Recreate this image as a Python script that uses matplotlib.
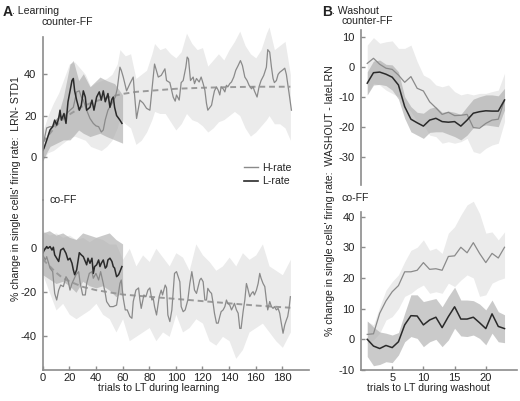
import matplotlib
matplotlib.use("Agg")
import matplotlib.pyplot as plt
from matplotlib.lines import Line2D

plt.rcParams['font.family'] = ['Liberation Sans', 'DejaVu Sans']
plt.rcParams['axes.unicode_minus'] = False

# ---- Panel A, counter-FF (learning) ----
a1_h_t = [0, 1, 3, 5.5, 8, 10.5, 13, 15.5, 18, 20.5, 23, 25.5, 27.5, 29, 30.5, 33, 35.5, 38, 40, 42, 44, 45.5, 47, 49,
          52, 54.5, 56, 58, 59, 60.5, 63, 65.5, 68, 69, 70.5, 73, 75.5, 78, 80.5, 83, 84, 86.8, 89, 91.8, 93, 95.5, 98,
          99.5, 100.5, 102.5, 104, 105.5, 107.5, 108.5, 109.5, 111, 113, 114, 115.5, 117.5, 119, 120.5, 121.8, 123, 124,
          126.8, 128, 129, 130.5, 131.8, 133, 134, 135.5, 136.8, 138, 139, 140.5, 141.8, 143.5, 145, 146.8, 148.5, 150,
          151.8, 153.5, 155, 156.8, 158, 159, 161, 162.5, 164, 166, 168, 169, 170.5, 171.8, 173, 174, 175.5, 176.8, 178,
          180, 181.8, 183, 185, 186.8]
a1_h_v = [6, 8, 14, 14.6, 14.6, 17.8, 20, 18.6, 21, 22.6, 24, 31.5, 32, 29, 27.5, 22.6, 18.6, 16.2, 15, 14.6, 12, 13, 18,
          22.6, 25.9, 29, 33, 43.5, 42, 38.7, 32, 35.5, 38.7, 30, 18.6, 27.5, 26, 23.5, 22.6, 38.7, 45, 38.7, 39.5, 42.7,
          37, 36, 29, 27, 30, 27.5, 36, 37, 43.5, 48.4, 47.5, 37, 38.7, 35.5, 38, 36.3, 38.7, 35.5, 32.3, 25.9, 22.6, 25,
          29, 32, 33.9, 32.3, 30, 33.9, 33, 31.5, 34.7, 33.9, 35.5, 36.3, 38.7, 42, 44.3, 46.7, 44.3, 38.7, 37, 34.7, 33,
          34, 32, 29, 34, 37, 39.5, 43.5, 52, 50.8, 43.5, 38, 36, 37, 40, 41, 42, 43, 40, 31, 22.6]
a1_l_t = [0, 1, 3, 5.5, 7.5, 9, 10.5, 12, 13, 14, 16, 17.5, 19, 22, 23, 24, 25.5, 27.5, 29, 30.5, 32, 33, 35.5, 37, 38.5,
          40.5, 42.5, 44, 45.5, 47, 49, 50.5, 52, 53, 54, 55.5, 58, 59.5]
a1_l_v = [3, 4.2, 8, 13, 14.6, 17.8, 15.4, 18.6, 22.6, 17.8, 21, 16.2, 26.7, 37, 38, 32, 27.5, 22.6, 25, 32, 29, 22.6, 24,
          27.5, 22.6, 29, 31.5, 27.5, 32, 26.7, 30.7, 24, 28, 29, 24, 20, 17.8, 16.2]
a1_fit_t = [0, 5, 10, 15, 20, 25, 30, 40, 50, 60, 70, 80, 90, 100, 120, 140, 160, 186]
a1_fit_v = [7, 11, 15, 18, 20.5, 22.5, 24.5, 27, 29, 30.5, 31.5, 32, 32.5, 33, 33.5, 33.8, 34, 34]
a1_hb_t = [0, 4, 8, 12, 16, 20, 24, 28, 32, 36, 40, 44, 48, 52, 56, 58, 62, 66, 70, 74, 78, 82, 84, 88, 92, 96, 100, 104,
           108, 112, 116, 120, 124, 128, 132, 136, 140, 144, 148, 152, 156, 160, 164, 168, 170, 174, 178, 182, 186]
a1_hb_hi = [12, 20, 26, 31, 38, 45, 46, 43, 40, 34, 36, 37, 38, 40, 45, 52, 49, 50, 38, 40, 42, 50, 55, 52, 53, 50, 48,
            51, 60, 55, 52, 53, 44, 47, 50, 47, 52, 56, 61, 54, 50, 48, 52, 60, 63, 52, 54, 56, 40]
a1_hb_lo = [-2, 2, 3, 5, 7, 9, 10, 9, 8, 5, 4, 3, 5, 8, 14, 19, 16, 14, 6, 8, 12, 18, 22, 21, 21, 17, 13, 16, 21, 18, 17,
            15, 12, 14, 17, 18, 20, 22, 20, 14, 10, 12, 15, 18, 20, 16, 16, 14, 8]
a1_lb_t = [0, 3, 5.5, 10.5, 15.5, 20.5, 23, 27, 30.5, 35.5, 43, 48, 54, 60]
a1_lb_hi = [4, 10, 14.6, 17.8, 29, 45, 46.7, 37, 40.3, 34, 38.7, 37, 35.5, 30]
a1_lb_lo = [-2, 2, 5, 6.6, 8.2, 8.2, 10, 13, 11.4, 9.8, 11.4, 9.8, 8.2, 6.6]

# ---- Panel A, co-FF (learning) ----
a2_h_t = [0, 2, 3, 5.5, 7.5, 9, 10.5, 12, 13.5, 15.5, 17.5, 19, 20.5, 22, 25, 27, 28, 30, 32, 33, 35, 37, 38, 40, 42,
          43.5, 45.5, 47, 48, 50.5, 53, 55.5, 58, 59, 60.5, 62, 63.5, 65.5, 67, 68, 70, 72, 73, 74, 76, 77.5, 79, 80.5,
          82, 83, 84, 85.5, 87.5, 89, 90, 92, 93, 94, 95.5, 97, 99, 100.5, 103, 104, 105.5, 107, 109, 110.5, 112, 113,
          114, 115.5, 116.8, 118, 119, 120.5, 121.8, 123, 124, 125.5, 126.8, 128, 129, 130.5, 131.8, 133, 134, 135.5,
          136.8, 138, 139, 140.5, 141.8, 143, 144, 145.5, 146.8, 148, 149, 150.5, 151.8, 153, 154, 155.5, 156.8, 158,
          159, 160.5, 161.8, 163, 164, 165.5, 166.8, 168, 169, 170.5, 171.8, 173, 174, 175.5, 176.8, 178, 179, 180.5,
          181.8, 183, 184, 185, 186]
a2_h_v = [-3, -5.3, -3.8, -9, -10.6, -20.5, -23.5, -19, -16.7, -17.4, -12.9, -14.4, -19, -16, -12, -10.6, -15.2, -21.2,
          -21.2, -16, -11.4, -10.6, -13.6, -11.4, -14.4, -10.6, -16, -20.5, -24.2, -26.5, -26.5, -25.8, -16, -14.4, -22.7,
          -28, -28, -31, -31.8, -24.2, -19, -18, -23.5, -27.3, -21.2, -22, -19, -18, -23.5, -22.7, -26.5, -30.3, -22, -19,
          -21.2, -16.7, -18, -30.3, -33.3, -28, -11.4, -10.6, -15.2, -26.5, -28.8, -28, -23.5, -16, -10.6, -14.4, -19,
          -20.5, -17.4, -14.4, -13.6, -15.2, -23.5, -23.5, -18.2, -19.7, -20.5, -25, -29.5, -34, -34, -31, -28.8, -28,
          -26.5, -23.5, -25, -25.8, -28, -26.5, -25, -28, -29.5, -36.4, -36.4, -28.8, -23.5, -16, -18.2, -22, -20.5,
          -19.7, -21.2, -19, -16, -11.4, -13.6, -16, -17.4, -23.5, -28, -24.2, -26.5, -27.3, -26.5, -28, -27.3, -29.5,
          -33.3, -38.6, -34.8, -32.6, -31, -27.3, -22]
a2_l_t = [0, 1, 3, 4, 5.5, 7, 8, 9, 10.5, 12, 13.5, 15.5, 17.5, 19, 20.5, 22, 23, 24, 25.5, 27.5, 29, 30.5, 32, 33, 34,
          35.5, 37, 38, 39, 40.5, 42, 43, 44, 45.5, 47, 48, 49, 50.5, 52, 53, 54, 55.5, 57, 58, 59.5]
a2_l_v = [-2.3, -1, 0.8, 0, 0.8, -0.8, 0.5, -3, -4.5, -6, -0.8, 0, -2.3, -5.3, -4.5, -6.8, -9.8, -12, -9.8, -2, -3, -3.8,
          -6, -7.5, -4.5, -6.8, -4.5, -11.4, -8.3, -7.5, -5.3, -8.3, -6.8, -5.3, -9, -8.3, -5.3, -4.5, -6, -8.3, -9,
          -12.9, -12, -10.6, -8.3]
a2_fit_t = [0, 5, 10, 15, 20, 30, 40, 50, 60, 80, 100, 120, 140, 160, 186]
a2_fit_v = [-5, -8, -11, -13.5, -15, -17.5, -19, -20, -21, -22, -23, -24, -25, -26, -27]
a2_hb_t = [0, 5, 10, 15, 20, 25, 30, 35, 40, 45, 50, 55, 60, 65, 70, 75, 80, 85, 90, 95, 100, 105, 110, 115, 120, 125,
           130, 135, 140, 145, 150, 155, 160, 165, 170, 175, 180, 186]
a2_hb_hi = [8, 6, 7, 5, 6, 4, 5, 3, 5, 4, 2, 2, -5, 0, -8, -3, -6, 0, -4, -8, -2, -4, -10, 2, -3, -6, -10, -8, -4, -8,
            -2, -5, -3, 2, -8, -10, -12, -5]
a2_hb_lo = [-12, -20, -28, -25, -30, -32, -30, -28, -25, -30, -32, -38, -32, -42, -40, -38, -36, -42, -38, -40, -30, -38,
            -36, -32, -34, -42, -44, -40, -42, -50, -46, -38, -36, -34, -38, -42, -45, -38]
a2_lb_t = [0, 5, 10, 15, 20, 25, 30, 35, 40, 45, 50, 55, 60]
a2_lb_hi = [7, 8, 6, 7, 5, 4, 7, 6, 5, 6, 7, 4, 2]
a2_lb_lo = [-12, -14, -16, -15, -17, -20, -15, -17, -18, -17, -19, -22, -20]

# ---- Panel B, washout ----
b_t = list(range(1, 24))
b1_h = [1.2, 2.9, 0.9, -0.4, -0.8, -2.7, -5.1, -3.2, -7.1, -8, -11.6, -13.6, -15.8, -15.1, -16.2, -16.1, -15.8, -20.2,
        -20.4, -18.8, -17.7, -17.4, -11]
b1_h_hi = [7.3, 9.8, 7.9, 8.4, 8.7, 6.2, 6.2, 7.3, 1.8, -2.7, -3.8, -6, -6.6, -6, -8.2, -9.3, -8.8, -9.3, -8.8, -8.8,
           -8.2, -7.7, -2.1]
b1_h_lo = [-9.3, -5.4, -6, -7.7, -8.8, -9.9, -12.8, -14.9, -18.2, -19.3, -22.7, -23.2, -25.4, -24.9, -25.4, -24.9,
           -23.8, -28.2, -28.8, -27.1, -26, -25.4, -18.2]
b1_l = [-5.4, -1.9, -1.7, -2.4, -3.4, -6, -13.2, -17.4, -18.6, -19.7, -17.7, -17.1, -18.2, -18.4, -18.2, -19.7, -17.7,
        -15.4, -14.9, -14.6, -14.7, -14.7, -11]
b1_l_hi = [-1.6, 2, 2.3, 0.9, 0.7, -1.6, -9.9, -13.2, -15.1, -15.4, -13.8, -13.2, -15.1, -14.7, -15.1, -15.8, -13.2,
           -10.7, -9.9, -9.3, -9.3, -9.6, -7.1]
b1_l_lo = [-9.3, -6, -5.8, -6.2, -7.7, -10.7, -17.1, -21.6, -22.7, -23.8, -21.8, -21.6, -21.6, -22.4, -23.2, -24.3,
           -22.7, -20.2, -19.9, -19.3, -19.6, -19.9, -14.3]
b2_h = [1.6, 1.8, 8.5, 12.5, 15.5, 17.5, 22, 22, 22.5, 25, 22.8, 23, 22.5, 27, 27.2, 30, 28.2, 31.5, 28, 25, 28, 26.5, 30]
b2_h_hi = [5.8, 4.7, 10.6, 16, 18.8, 21, 25.3, 29, 30, 32.4, 29, 29.7, 28, 34.6, 36.7, 40.5, 43.8, 45, 41, 34.6, 35,
           32.4, 35]
b2_h_lo = [-1.3, -0.2, 2, 6.3, 7.4, 10, 14, 15, 16.6, 17.7, 15, 15.5, 15, 18.3, 17.2, 19.3, 21, 20, 14, 14.5, 18.3,
           19.3, 20]
b2_l = [0, -2.2, -3, -2, -2.7, -0.8, 4.7, 7.7, 7.6, 4.7, 6.3, 7.2, 3.8, 7.4, 10.6, 6.6, 6.6, 7.2, 5.4, 3.5, 8.3, 4.2, 3.5]
b2_l_hi = [6, 4, 2.4, 2, 1.4, 2.2, 8.5, 14.5, 14.5, 12.3, 12.8, 13.3, 10.6, 14, 17, 12.8, 12.8, 12.6, 11.5, 9.6, 12.8,
           9, 8]
b2_l_lo = [-5.6, -8.6, -8.2, -7.3, -7.6, -5.1, -0.8, 0.9, 0.3, -2.4, -0.8, 0, -2.4, -0.2, 3.6, 1.1, 0.9, 1.4, 0.3,
           -1.8, 2, -0.8, -1.1]

W, H = 520, 401
light = '#ebebeb'
dark = '#a8a8a8'
hcol = '#8a8a8a'
lcol = '#2a2a2a'
axcol = '#8c8c8c'
txt = '#222222'
fs = 7.6


def box(x0, y0, x1, y1):
    # pixel box -> figure fraction
    return [x0 / W, 1 - y1 / H, (x1 - x0) / W, (y1 - y0) / H]


def style(ax, xaxis=True):
    for s in ['top', 'right']:
        ax.spines[s].set_visible(False)
    ax.spines['left'].set_color(axcol)
    ax.spines['left'].set_linewidth(1.2)
    ax.spines['bottom'].set_color(axcol)
    ax.spines['bottom'].set_linewidth(1.2)
    ax.tick_params(direction='in', length=3, width=1, colors=axcol, labelcolor=txt, labelsize=8, pad=4.5)
    ax.tick_params(axis='x', pad=2)
    if not xaxis:
        ax.spines['bottom'].set_visible(False)
        ax.set_xticks([])
    ax.patch.set_alpha(0)


fig = plt.figure(figsize=(W / 100, H / 100), dpi=100)

# A top
ax = fig.add_axes(box(42.7, 20, 309, 200))
ax.fill_between(a1_hb_t, a1_hb_lo, a1_hb_hi, color=light, lw=0)
ax.fill_between(a1_lb_t, a1_lb_lo, a1_lb_hi, color=dark, alpha=0.6, lw=0)
ax.plot(a1_fit_t, a1_fit_v, color='#9a9a9a', lw=1.4, ls=(0, (3, 2)))
ax.plot(a1_h_t, a1_h_v, color=hcol, lw=0.9)
ax.plot(a1_l_t, a1_l_v, color=lcol, lw=1.1)
ax.set_xlim(0, 200)
ax.set_ylim(-21.0, 66.4)
ax.set_yticks([0, 20, 40])
ax.spines['left'].set_bounds(-21.0, 58)
style(ax, xaxis=False)

# A bottom
ax = fig.add_axes(box(42.7, 200, 309, 370))
ax.fill_between(a2_hb_t, a2_hb_lo, a2_hb_hi, color=light, lw=0)
ax.fill_between(a2_lb_t, a2_lb_lo, a2_lb_hi, color=dark, alpha=0.6, lw=0)
ax.plot(a2_fit_t, a2_fit_v, color='#9a9a9a', lw=1.4, ls=(0, (3, 2)))
ax.plot(a2_h_t, a2_h_v, color=hcol, lw=0.9)
ax.plot(a2_l_t, a2_l_v, color=lcol, lw=1.1)
ax.set_xlim(0, 200)
ax.set_ylim(-55.3, 21.95)
ax.set_yticks([-40, -20, 0])
ax.set_xticks(range(0, 181, 20))
style(ax)

# B top
ax = fig.add_axes(box(361, 30, 517, 185))
ax.fill_between(b_t, b1_h_lo, b1_h_hi, color=light, lw=0)
ax.fill_between(b_t, b1_l_lo, b1_l_hi, color=dark, alpha=0.6, lw=0)
ax.plot(b_t, b1_h, color=hcol, lw=0.9)
ax.plot(b_t, b1_l, color=lcol, lw=1.1)
ax.set_xlim(0, 25)
ax.set_ylim(-39.33, 12.33)
ax.set_yticks([-30, -20, -10, 0, 10])
style(ax, xaxis=False)

# B bottom
ax = fig.add_axes(box(361, 200, 517, 370))
ax.fill_between(b_t, b2_h_lo, b2_h_hi, color=light, lw=0)
ax.fill_between(b_t, b2_l_lo, b2_l_hi, color=dark, alpha=0.6, lw=0)
ax.plot(b_t, b2_h, color=hcol, lw=0.9)
ax.plot(b_t, b2_l, color=lcol, lw=1.1)
ax.set_xlim(0, 25)
ax.set_ylim(-10, 45.4)
ax.set_yticks([-10, 0, 10, 20, 30, 40])
ax.set_xticks([5, 10, 15, 20])
ax.spines['left'].set_bounds(-10, 41.6)
style(ax)


def ftext(x, y, s, **kw):
    kw.setdefault('fontsize', fs)
    kw.setdefault('color', txt)
    fig.text(x / W, 1 - y / H, s, **kw)


ftext(2.5, 11.5, 'A', fontsize=10, fontweight='bold', va='center')
ftext(12, 11.5, '. Learning', va='center')
ftext(41.7, 22, 'counter-FF', va='center')
ftext(50, 200, 'co-FF', va='center')
ftext(322.5, 11.5, 'B', fontsize=10, fontweight='bold', va='center')
ftext(331.5, 11.5, '. Washout', va='center')
ftext(341.7, 20.5, 'counter-FF', va='center')
ftext(341.7, 198, 'co-FF', va='center')
ftext(16, 189, "% change in single cells' firing rate:  LRN- STD1", rotation=90, ha='center', va='center')
ftext(330, 201, "% change in single cells' firing rate:  WASHOUT - lateLRN", rotation=90, ha='center', va='center')
ftext(159, 388, 'trials to LT during learning', ha='center', va='center')
ftext(428, 388, 'trials to LT during washout', ha='center', va='center')

handles = [Line2D([], [], color=hcol, lw=1.0), Line2D([], [], color=lcol, lw=1.2)]
fig.legend(handles, ['H-rate', 'L-rate'], loc='center left', bbox_to_anchor=(244 / W, 1 - 174.5 / H),
           frameon=False, fontsize=fs, handlelength=1.3, handletextpad=0.4, labelspacing=0.35,
           borderpad=0, borderaxespad=0, labelcolor=txt)

fig.savefig('out.png', dpi=100)
